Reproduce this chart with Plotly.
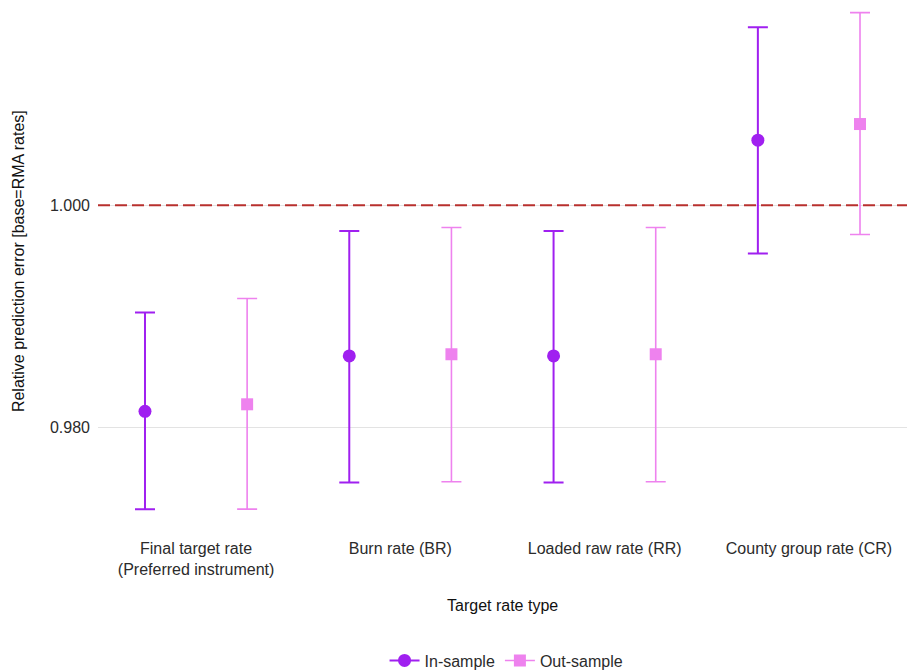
import plotly.graph_objects as go

categories = ["Final target rate<br>(Preferred instrument)", "Burn rate (BR)",
              "Loaded raw rate (RR)", "County group rate (CR)"]

in_est = [0.98142, 0.98641, 0.98641, 1.00586]
in_low = [0.97260, 0.97501, 0.97501, 0.99564]
in_high = [0.99032, 0.99768, 0.99768, 1.01603]

out_est = [0.98205, 0.98656, 0.98656, 1.00731]
out_low = [0.97260, 0.97507, 0.97507, 0.99736]
out_high = [0.99158, 0.99799, 0.99799, 1.01735]

y_ticks = [0.980, 1.000]
y_ticktext = ["0.980", "1.000"]

IN_COLOR = "#A020F0"
OUT_COLOR = "#EE82EE"
FONT = "Liberation Sans, Arial, sans-serif"

idx = list(range(len(categories)))
dodge = 0.25

fig = go.Figure()

fig.add_trace(go.Scatter(
    x=[i - dodge for i in idx], y=in_est, mode="markers",
    marker=dict(symbol="circle", size=13, color=IN_COLOR),
    error_y=dict(type="data", symmetric=False,
                 array=[h - e for h, e in zip(in_high, in_est)],
                 arrayminus=[e - l for e, l in zip(in_est, in_low)],
                 color=IN_COLOR, thickness=2, width=10),
    showlegend=False, name="In-sample"))

fig.add_trace(go.Scatter(
    x=[i + dodge for i in idx], y=out_est, mode="markers",
    marker=dict(symbol="square", size=12, color=OUT_COLOR),
    error_y=dict(type="data", symmetric=False,
                 array=[h - e for h, e in zip(out_high, out_est)],
                 arrayminus=[e - l for e, l in zip(out_est, out_low)],
                 color=OUT_COLOR, thickness=1.6, width=10),
    showlegend=False, name="Out-sample"))

# legend entries
fig.add_trace(go.Scatter(x=[None], y=[None], mode="lines+markers", name="In-sample",
                         line=dict(color=IN_COLOR, width=2),
                         marker=dict(symbol="circle", size=13, color=IN_COLOR)))
fig.add_trace(go.Scatter(x=[None], y=[None], mode="lines+markers", name="Out-sample",
                         line=dict(color=OUT_COLOR, width=1.6),
                         marker=dict(symbol="square", size=12, color=OUT_COLOR)))

fig.add_hline(y=1.0, line=dict(color="#B8302E", width=2, dash="12px,5px"), layer="above")

fig.update_layout(
    width=909, height=670,
    margin=dict(l=98, r=2, t=0, b=136, autoexpand=False),
    paper_bgcolor="white", plot_bgcolor="white",
    font=dict(family=FONT, size=16, color="#2B2B2B"),
    xaxis=dict(range=[-0.48, 3.48], tickvals=idx, ticktext=categories,
               showgrid=False, zeroline=False, showline=False, ticks="",
               ticklabelstandoff=3, automargin=False,
               tickfont=dict(size=16, color="#2B2B2B")),
    yaxis=dict(range=[0.97036, 1.01849], tickvals=y_ticks, ticktext=y_ticktext,
               showgrid=True, gridcolor="#E3E3E3", gridwidth=1, zeroline=False,
               showline=False, ticks="", ticklabelstandoff=7, automargin=False,
               tickfont=dict(size=16, color="#2B2B2B")),
    legend=dict(orientation="h", x=0.505, xanchor="center", yref="paper",
                y=-0.237, yanchor="middle", font=dict(size=16, color="#2B2B2B")),
    annotations=[
        dict(text="Target rate type", xref="paper", yref="paper", x=0.5, y=-0.1338,
             xanchor="center", yanchor="middle", showarrow=False,
             font=dict(size=16, color="#111111")),
        dict(text="Relative prediction error [base=RMA rates]", xref="paper", yref="paper",
             x=-0.0989, y=0.511, xanchor="center", yanchor="middle", textangle=-90,
             showarrow=False, font=dict(size=16, color="#111111")),
    ],
)

fig.write_html("out.html", config={"displayModeBar": False},
               post_script="document.body.style.margin='0';")
